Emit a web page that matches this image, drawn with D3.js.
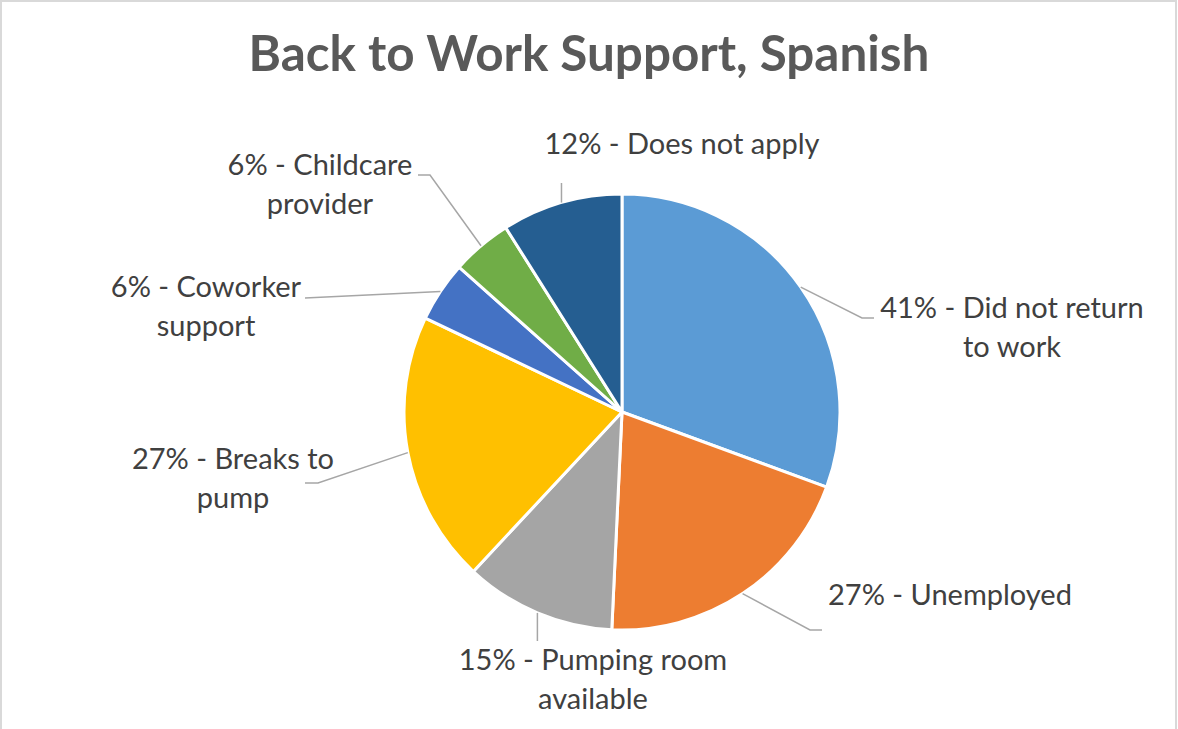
<!DOCTYPE html>
<html>
<head>
<meta charset="utf-8">
<script src="https://cdn.jsdelivr.net/npm/d3@7"></script>
<style>
  html, body { margin: 0; padding: 0; background: #fff; }
  svg { display: block; }
</style>
</head>
<body>
<svg id="chart" width="1178" height="729"></svg>
<script>
// ---- data ----
const title = "Back to Work Support, Spanish";
const categories = ["Did not return to work", "Unemployed", "Pumping room available",
  "Breaks to pump", "Coworker support", "Childcare provider", "Does not apply"];
const values = [41, 27, 15, 27, 6, 6, 12];
const labelLines = [
  ["41% - Did not return", "to work"],
  ["27% - Unemployed"],
  ["15% - Pumping room", "available"],
  ["27% - Breaks to", "pump"],
  ["6% - Coworker", "support"],
  ["6% - Childcare", "provider"],
  ["12% - Does not apply"]
];
const colors = ["#5B9BD5", "#ED7D31", "#A5A5A5", "#FFC000", "#4472C4", "#70AD47", "#255E91"];

// ---- layout (label positions, leader bends) ----
const labelLayout = [
  { x: 1012, y: 318, anchor: "middle", leader: [[862, 318], [874, 318]] },
  { x: 828,  y: 605, anchor: "start",  leader: [[810, 630], [822, 630]] },
  { x: 593,  y: 670, anchor: "middle", leader: [[null, 641]] },
  { x: 233,  y: 469, anchor: "middle", leader: [[318, 483], [305, 483]] },
  { x: 206,  y: 297, anchor: "middle", leader: [[305, 298]] },
  { x: 320,  y: 175, anchor: "middle", leader: [[430, 175], [418, 175]] },
  { x: 682,  y: 154, anchor: "middle", leader: [[null, 183]] }
];

const W = 1178, H = 729;
const cx = 622, cy = 412, R = 218;
const lineH = 38.5;

const svg = d3.select("#chart");

// border
svg.append("rect").attr("x", 1).attr("y", 1).attr("width", W - 3).attr("height", H + 5)
  .attr("fill", "#fff").attr("stroke", "#d9d9d9").attr("stroke-width", 2);

// title
svg.append("text")
  .attr("x", 589).attr("y", 71)
  .attr("text-anchor", "middle")
  .attr("font-family", "Lato, 'Open Sans', sans-serif")
  .attr("font-weight", "bold")
  .attr("font-size", 49.4)
  .attr("fill", "#595959")
  .text(title);

const pie = d3.pie().sort(null).value(d => d)(values);
const arc = d3.arc().innerRadius(0).outerRadius(R);

const g = svg.append("g").attr("transform", `translate(${cx},${cy})`);
g.selectAll("path.slice").data(pie).join("path")
  .attr("class", "slice")
  .attr("d", arc)
  .attr("fill", (d, i) => colors[i])
  .attr("stroke", "#fff")
  .attr("stroke-width", 3)
  .attr("stroke-linejoin", "round");

// leader lines
const edgeArc = d3.arc().innerRadius(R).outerRadius(R);
pie.forEach((d, i) => {
  const c = edgeArc.centroid(d);
  const sx = cx + c[0], sy = cy + c[1];
  const pts = [[sx, sy]].concat(labelLayout[i].leader.map(p => [p[0] === null ? sx : p[0], p[1]]));
  svg.append("path")
    .attr("d", d3.line()(pts))
    .attr("fill", "none")
    .attr("stroke", "#a6a6a6")
    .attr("stroke-width", 1.5);
});

// labels
labelLines.forEach((lines, i) => {
  const L = labelLayout[i];
  const t = svg.append("text")
    .attr("text-anchor", L.anchor)
    .attr("font-family", "Lato, 'Open Sans', sans-serif")
    .attr("font-size", 29)
    .attr("fill", "#404040");
  lines.forEach((s, k) => {
    t.append("tspan").attr("x", L.x).attr("y", L.y + k * lineH).text(s);
  });
});
</script>
</body>
</html>
